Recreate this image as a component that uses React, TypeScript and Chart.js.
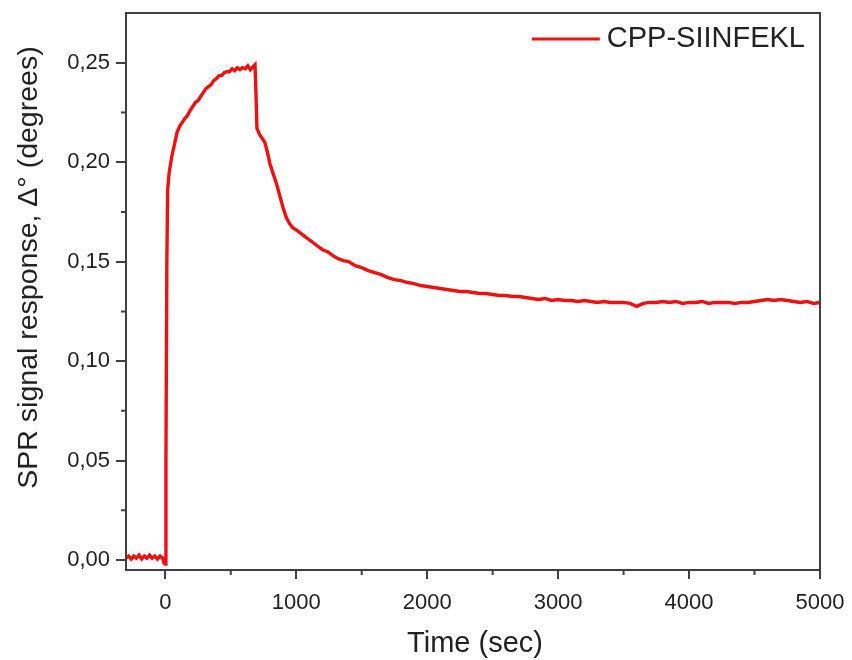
import React, { useEffect, useRef } from 'react';
import { Chart, registerables } from 'chart.js';

Chart.register(...registerables);

const time = [
  -300, -280, -260, -240, -220, -200, -180, -160, -140, -120, -100, -80, -60, -40, -20, -10, 0,
  5, 12, 18, 30, 50, 70, 90, 110, 130, 150, 170, 190, 210, 230, 250, 270, 290, 310, 330, 350,
  370, 390, 410, 430, 450, 470, 490, 510, 530, 550, 570, 590, 610, 630, 650, 670, 685,
  692, 700, 720, 740, 760, 780, 800, 825, 850, 875, 900, 925, 950, 975, 1000,
  1040, 1080, 1120, 1160, 1200, 1240, 1280, 1320, 1360, 1400, 1450, 1500, 1550, 1600,
  1650, 1700, 1750, 1800, 1850, 1900, 1950, 2000, 2050, 2100, 2150, 2200, 2250, 2300,
  2350, 2400, 2450, 2500, 2550, 2600, 2650, 2700, 2750, 2800, 2850, 2900, 2950, 3000,
  3050, 3100, 3150, 3200, 3250, 3300, 3350, 3400, 3450, 3500, 3550, 3600, 3650, 3700,
  3750, 3800, 3850, 3900, 3950, 4000, 4050, 4100, 4150, 4200, 4250, 4300, 4350, 4400,
  4450, 4500, 4550, 4600, 4650, 4700, 4750, 4800, 4850, 4900, 4950, 5000,
];

const signal = [
  0.001, 0.002, 0.0005, 0.002, 0.001, 0.0025, 0.0005, 0.002, 0.001, 0.0025, 0.001, 0.002, 0.0005, 0.002, 0.001, -0.0015, -0.002,
  0.05, 0.15, 0.186, 0.195, 0.203, 0.209, 0.215, 0.218, 0.22, 0.222, 0.2235, 0.226, 0.228, 0.23, 0.231, 0.233, 0.235, 0.237, 0.238, 0.239,
  0.241, 0.242, 0.2435, 0.2435, 0.245, 0.2455, 0.2455, 0.247, 0.246, 0.2475, 0.2465, 0.2475, 0.247, 0.2485, 0.2465, 0.248, 0.249,
  0.236, 0.217, 0.214, 0.212, 0.21, 0.205, 0.199, 0.194, 0.189, 0.183, 0.177, 0.172, 0.169, 0.167, 0.166,
  0.164, 0.162, 0.16, 0.158, 0.156, 0.155, 0.153, 0.1515, 0.1505, 0.15, 0.148, 0.147, 0.1455, 0.1445,
  0.1435, 0.142, 0.141, 0.1405, 0.1395, 0.139, 0.138, 0.1375, 0.137, 0.1365, 0.136, 0.1355, 0.135, 0.135,
  0.1345, 0.134, 0.134, 0.1335, 0.133, 0.133, 0.1325, 0.1325, 0.132, 0.1315, 0.131, 0.1315, 0.1305, 0.131,
  0.1305, 0.1305, 0.13, 0.1305, 0.13, 0.1295, 0.13, 0.1295, 0.1295, 0.1295, 0.129, 0.1275, 0.129, 0.1295,
  0.1295, 0.13, 0.1295, 0.13, 0.129, 0.1295, 0.1295, 0.13, 0.129, 0.1295, 0.1295, 0.1295, 0.129, 0.1295,
  0.1295, 0.13, 0.1305, 0.131, 0.1305, 0.131, 0.1305, 0.13, 0.1295, 0.13, 0.129, 0.1295,
];

const xTicks = [0, 1000, 2000, 3000, 4000, 5000];
const xMinorTicks = [500, 1500, 2500, 3500, 4500];
const yTicks = [0, 0.05, 0.1, 0.15, 0.2, 0.25];
const yMinorTicks = [0.025, 0.075, 0.125, 0.175, 0.225];

const seriesLabel = 'CPP-SIINFEKL';
const xTitle = 'Time (sec)';
const yTitle = 'SPR signal response, Δ° (degrees)';

const FONT = '"Liberation Sans", Arial, Helvetica, sans-serif';
const AXIS_COLOR = '#404040';
const TEXT_COLOR = '#222222';
const LINE_COLOR = '#ee1111';

const decorPlugin = {
  id: 'decor',
  afterDraw(chart: any) {
    const { ctx, chartArea } = chart;
    const { left, right, top, bottom } = chartArea;
    const xs = chart.scales.x;
    const ys = chart.scales.y;
    ctx.save();
    // frame
    ctx.strokeStyle = AXIS_COLOR;
    ctx.lineWidth = 2;
    ctx.strokeRect(left, top, right - left, bottom - top);
    // minor ticks
    ctx.beginPath();
    yMinorTicks.forEach((v) => {
      const py = ys.getPixelForValue(v);
      ctx.moveTo(left - 5, py);
      ctx.lineTo(left, py);
    });
    xMinorTicks.forEach((v) => {
      const px = xs.getPixelForValue(v);
      ctx.moveTo(px, bottom);
      ctx.lineTo(px, bottom + 5);
    });
    ctx.stroke();

    // legend
    const ds = chart.data.datasets[0];
    ctx.font = `29px ${FONT}`;
    ctx.fillStyle = TEXT_COLOR;
    ctx.textBaseline = 'middle';
    ctx.textAlign = 'right';
    const textRight = right - 15;
    const ly = top + 26;
    ctx.fillText(ds.label, textRight, ly);
    const tw = ctx.measureText(ds.label).width;
    ctx.strokeStyle = ds.borderColor;
    ctx.lineWidth = 3;
    ctx.beginPath();
    ctx.moveTo(textRight - tw - 7, ly);
    ctx.lineTo(textRight - tw - 75, ly);
    ctx.stroke();

    // axis titles
    ctx.fillStyle = TEXT_COLOR;
    ctx.textAlign = 'center';
    ctx.textBaseline = 'alphabetic';
    ctx.font = `29px ${FONT}`;
    ctx.fillText(xTitle, (left + right) / 2 + 2, bottom + 82);
    ctx.save();
    ctx.font = `28.5px ${FONT}`;
    ctx.translate(left - 97, (top + bottom) / 2 - 24);
    ctx.rotate(-Math.PI / 2);
    ctx.textBaseline = 'middle';
    ctx.fillText(yTitle, 0, 0);
    ctx.restore();
    ctx.restore();
  },
};

export default function App() {
  const canvasRef = useRef<HTMLCanvasElement | null>(null);

  useEffect(() => {
    if (!canvasRef.current) return;
    const points = time.map((t, i) => ({ x: t, y: signal[i] }));
    const chart = new Chart(canvasRef.current, {
      type: 'line',
      data: {
        datasets: [
          {
            label: seriesLabel,
            data: points,
            borderColor: LINE_COLOR,
            borderWidth: 3.4,
            pointRadius: 0,
            tension: 0,
            fill: false,
          },
        ],
      },
      options: {
        animation: false,
        responsive: true,
        maintainAspectRatio: false,
        parsing: false as any,
        layout: { padding: { left: 0, right: 32, top: 13, bottom: 0 } },
        plugins: {
          legend: { display: false },
          tooltip: { enabled: false },
          title: { display: false },
        },
        scales: {
          x: {
            type: 'linear',
            min: -300,
            max: 5000,
            afterBuildTicks: (scale: any) => {
              scale.ticks = xTicks.map((v) => ({ value: v }));
            },
            afterFit: (scale: any) => {
              scale.height = 90;
              scale.paddingLeft = 0;
              scale.paddingRight = 0;
            },
            border: { display: false },
            grid: {
              display: true,
              drawOnChartArea: false,
              drawTicks: true,
              tickLength: 9,
              lineWidth: 2,
              tickColor: AXIS_COLOR,
              color: AXIS_COLOR,
            },
            ticks: {
              color: TEXT_COLOR,
              font: { family: FONT, size: 22 },
              padding: 11,
              maxRotation: 0,
              callback: (v: any) => String(v),
            },
          },
          y: {
            type: 'linear',
            min: -0.005,
            max: 0.275,
            afterBuildTicks: (scale: any) => {
              scale.ticks = yTicks.map((v) => ({ value: v }));
            },
            afterFit: (scale: any) => {
              scale.width = 126;
              scale.paddingTop = 0;
              scale.paddingBottom = 0;
            },
            border: { display: false },
            grid: {
              display: true,
              drawOnChartArea: false,
              drawTicks: true,
              tickLength: 10,
              lineWidth: 2,
              tickColor: AXIS_COLOR,
              color: AXIS_COLOR,
            },
            ticks: {
              color: TEXT_COLOR,
              font: { family: FONT, size: 22 },
              padding: 6,
              callback: (v: any) => Number(v).toFixed(2).replace('.', ','),
            },
          },
        },
      },
      plugins: [decorPlugin],
    });
    return () => chart.destroy();
  }, []);

  return (
    <div style={{ position: 'fixed', left: 0, top: 0, width: 852, height: 660, background: '#fff' }}>
      <canvas ref={canvasRef} />
    </div>
  );
}
